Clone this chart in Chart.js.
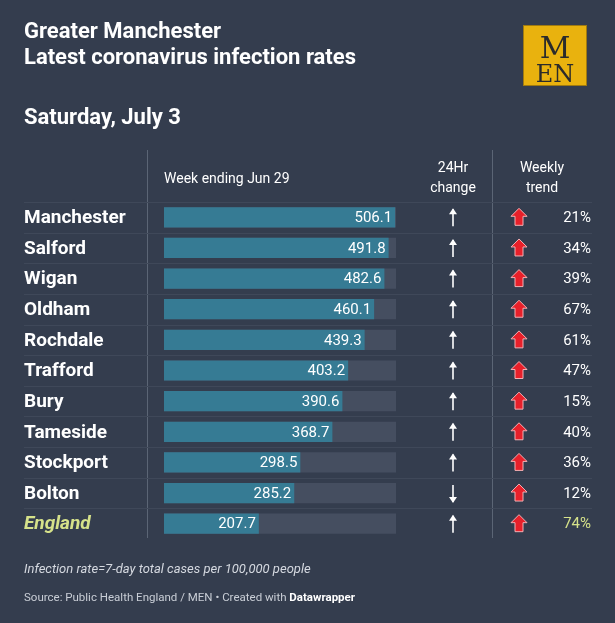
<!DOCTYPE html>
<html><head><meta charset="utf-8">
<script src="https://cdn.jsdelivr.net/npm/chart.js@4"></script>
<style>
html,body{margin:0;padding:0;background:#343d4e;}
#wrap{position:relative;width:615px;height:623px;}
</style></head>
<body><div id="wrap"><canvas id="c" width="615" height="623"></canvas></div>
<script>
const areas = ["Manchester","Salford","Wigan","Oldham","Rochdale","Trafford","Bury","Tameside","Stockport","Bolton","England"];
const rates = [506.1,491.8,482.6,460.1,439.3,403.2,390.6,368.7,298.5,285.2,207.7];
const change24 = ["up","up","up","up","up","up","up","up","up","down","up"];
const weekly = [21,34,39,67,61,47,15,40,36,12,74];
const trackMax = 508;

const BG = "#343d4e", FG = "#ffffff", ENG = "#d6e28a";

const tablePlugin = {
  id: "table",
  beforeDraw(chart) {
    const c = chart.ctx;
    c.save(); c.fillStyle = BG; c.fillRect(0, 0, chart.width, chart.height); c.restore();
  },
  afterDraw(chart) {
    const c = chart.ctx;
    const meta = chart.getDatasetMeta(1);
    c.save();
    c.fillStyle = FG; c.textBaseline = "alphabetic";
    c.font = "bold 22px Roboto";
    c.fillText("Greater Manchester", 24, 38);
    c.fillText("Latest coronavirus infection rates", 24, 64);
    c.fillText("Saturday, July 3", 24, 124);
    // logo
    c.fillStyle = "#e9b20e"; c.fillRect(523, 25, 64, 61);
    c.strokeStyle = "#a07a10"; c.lineWidth = 1; c.strokeRect(523.5, 25.5, 63, 60);
    c.fillStyle = "#2b2b2b"; c.textAlign = "center";
    c.font = "30px 'DejaVu Serif'"; c.fillText("M", 555, 58);
    c.font = "24px 'DejaVu Serif'"; c.fillText("EN", 555, 82);
    // headers
    c.fillStyle = FG; c.font = "14px Roboto";
    c.textAlign = "left"; c.fillText("Week ending Jun 29", 164, 183);
    c.textAlign = "center";
    c.fillText("24Hr", 453, 172); c.fillText("change", 453, 192);
    c.fillText("Weekly", 542, 172); c.fillText("trend", 542, 192);
    // dividers
    c.strokeStyle = "#5b6575"; c.lineWidth = 1;
    c.beginPath(); c.moveTo(147.5, 150); c.lineTo(147.5, 538);
    c.moveTo(492.5, 150); c.lineTo(492.5, 538); c.stroke();
    c.strokeStyle = "#3f4859";
    const step = meta.data.length > 1 ? meta.data[1].y - meta.data[0].y : 30;
    for (let i = 0; i < areas.length; i++) {
      const y = Math.round(meta.data[i].y - step / 2) + 0.5;
      c.beginPath(); c.moveTo(24, y); c.lineTo(592, y); c.stroke();
    }
    areas.forEach((name, i) => {
      const bar = meta.data[i];
      const y = bar.y;
      const isEng = name === "England";
      c.textBaseline = "middle";
      c.textAlign = "left";
      c.fillStyle = isEng ? ENG : FG;
      c.font = (isEng ? "italic " : "") + "bold 19px Roboto";
      c.fillText(name, 24, y + 1);
      c.fillStyle = FG; c.font = "15px Roboto"; c.textAlign = "right";
      c.fillText(rates[i].toFixed(1), bar.x - 3, y + 1);
      // 24h arrow
      const up = change24[i] === "up";
      c.strokeStyle = FG; c.fillStyle = FG; c.lineWidth = 1.6;
      c.beginPath(); c.moveTo(453, y - 8); c.lineTo(453, y + 9); c.stroke();
      c.beginPath();
      if (up) { c.moveTo(453, y - 9); c.lineTo(449, y - 3); c.lineTo(457, y - 3); }
      else { c.moveTo(453, y + 10); c.lineTo(449, y + 4); c.lineTo(457, y + 4); }
      c.fill();
      // weekly red arrow
      const ax = 519;
      c.beginPath();
      c.moveTo(ax, y - 9); c.lineTo(ax + 8, y - 1); c.lineTo(ax + 4, y - 1);
      c.lineTo(ax + 4, y + 8); c.lineTo(ax - 4, y + 8); c.lineTo(ax - 4, y - 1);
      c.lineTo(ax - 8, y - 1); c.closePath();
      c.fillStyle = "#e8202a"; c.fill();
      c.strokeStyle = "#f3b0b4"; c.lineWidth = 1; c.stroke();
      c.fillStyle = isEng ? ENG : FG; c.font = "15px Roboto"; c.textAlign = "right";
      c.fillText(weekly[i] + "%", 591, y + 1);
    });
    c.textBaseline = "alphabetic"; c.textAlign = "left";
    c.fillStyle = "#d5d9e0"; c.font = "italic 13px Roboto";
    c.fillText("Infection rate=7-day total cases per 100,000 people", 24, 573);
    c.font = "11.5px Roboto"; c.fillStyle = "#c9ced6";
    const s = "Source: Public Health England / MEN • Created with ";
    c.fillText(s, 24, 601);
    const w = c.measureText(s).width;
    c.font = "bold 11.5px Roboto"; c.fillStyle = FG;
    c.fillText("Datawrapper", 24 + w, 601);
    c.restore();
  }
};

new Chart(document.getElementById("c"), {
  type: "bar",
  data: {
    labels: areas,
    datasets: [
      { data: areas.map(() => trackMax), backgroundColor: "#454e60", barPercentage: 0.66, categoryPercentage: 1, grouped: false, order: 2 },
      { data: rates, backgroundColor: "#367b94", barPercentage: 0.66, categoryPercentage: 1, grouped: false, order: 1 }
    ]
  },
  options: {
    indexAxis: "y",
    responsive: false,
    animation: false,
    events: [],
    layout: { padding: { left: 164, right: 615 - 396, top: 202, bottom: 623 - 539 } },
    plugins: { legend: { display: false }, tooltip: { enabled: false } },
    scales: {
      x: { display: false, min: 0, max: trackMax },
      y: { display: false }
    }
  },
  plugins: [tablePlugin]
});
</script></body></html>
